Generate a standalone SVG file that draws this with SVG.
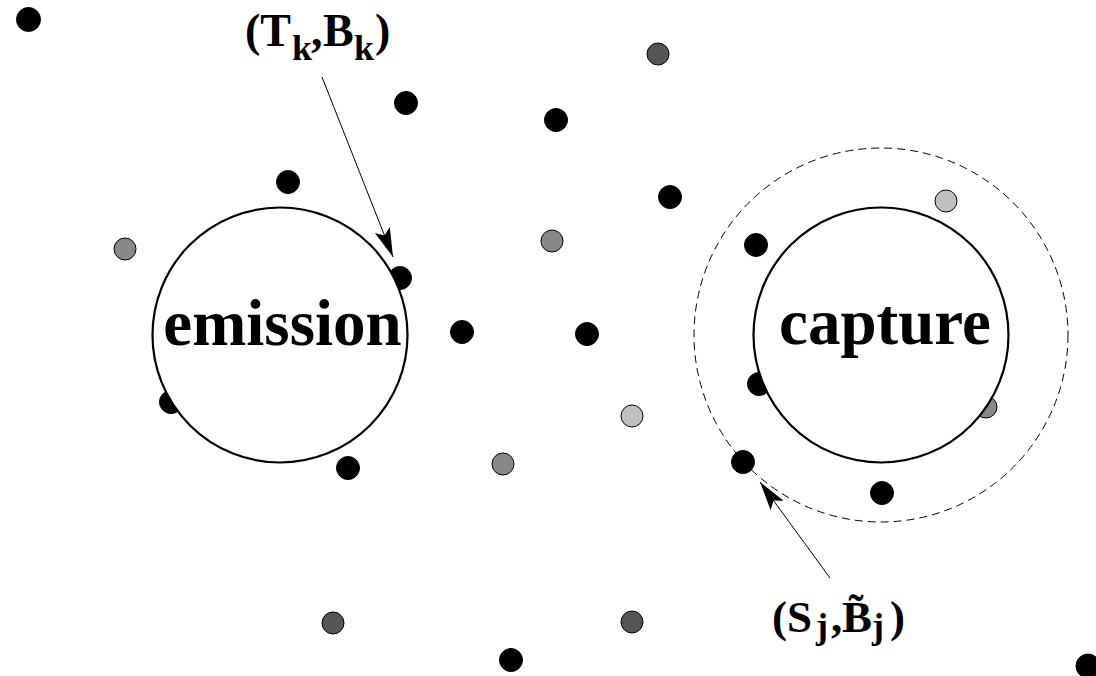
<svg xmlns="http://www.w3.org/2000/svg" width="1096" height="676" viewBox="0 0 1096 676">
<style>
.dot{stroke:#000;stroke-width:1}
.b{fill:#000}
.dg{fill:#555}
.mg{fill:#888}
.lg{fill:#c0c0c0}
.region{fill:#fff;stroke:#000;stroke-width:2.2}
.lbl{font-family:"Liberation Serif","Times New Roman",serif;font-weight:bold;fill:#000}
.conn{stroke:#000;stroke-width:1;fill:none}
</style>
<defs>
<marker id="ah" markerUnits="userSpaceOnUse" orient="auto" refX="0" refY="0" markerWidth="40" markerHeight="40" overflow="visible">
<path d="M0,0 L-29,-8 L-23,0 L-29,8 Z" fill="#000"/>
</marker>
</defs>
<rect width="1096" height="676" fill="#fff"/>
<circle id="neighbourhood" cx="881" cy="335" r="187" fill="none" stroke="#000" stroke-width="1" stroke-dasharray="8,5"/>
<g id="dots">
<circle class="dot b" cx="28.5" cy="19.5" r="12"/>
<circle class="dot b" cx="406" cy="103" r="11.5"/>
<circle class="dot b" cx="556" cy="120" r="11.5"/>
<circle class="dot dg" cx="658" cy="54" r="11"/>
<circle class="dot b" cx="288" cy="182" r="11.5"/>
<circle class="dot b" cx="670" cy="197" r="11.5"/>
<circle class="dot mg" cx="125" cy="249" r="11"/>
<circle class="dot mg" cx="552" cy="241" r="11"/>
<circle class="dot b" cx="400" cy="278" r="11.5"/>
<circle class="dot b" cx="462" cy="332" r="11.5"/>
<circle class="dot b" cx="587" cy="334" r="11.5"/>
<circle class="dot b" cx="171" cy="402" r="11.5"/>
<circle class="dot lg" cx="632" cy="416" r="11"/>
<circle class="dot b" cx="348" cy="468" r="11.5"/>
<circle class="dot mg" cx="503" cy="464" r="11"/>
<circle class="dot b" cx="756" cy="245" r="11.5"/>
<circle class="dot lg" cx="946" cy="201" r="11"/>
<circle class="dot b" cx="759" cy="384" r="11.5"/>
<circle class="dot mg" cx="986" cy="407" r="11"/>
<circle class="dot b" cx="743" cy="462" r="11.5"/>
<circle class="dot b" cx="882" cy="493" r="11.5"/>
<circle class="dot dg" cx="333" cy="623" r="11"/>
<circle class="dot dg" cx="632" cy="622" r="11"/>
<circle class="dot b" cx="511" cy="660" r="11.5"/>
<circle class="dot b" cx="1088" cy="666" r="12"/>
</g>
<g id="emission">
<circle class="region" cx="280" cy="335" r="127.5"/>
<text class="lbl" x="282.5" y="345" font-size="65" text-anchor="middle">emission</text>
</g>
<g id="capture">
<circle class="region" cx="881" cy="335" r="127.5"/>
<text class="lbl" x="885" y="344" font-size="65" text-anchor="middle">capture</text>
</g>
<g id="connectors">
<line class="conn" x1="322" y1="77" x2="393" y2="257" marker-end="url(#ah)"/>
<line class="conn" x1="830" y1="578" x2="760" y2="482" marker-end="url(#ah)"/>
</g>
<g id="label-tk">
<text class="lbl" font-size="46" y="46"><tspan x="245">(T</tspan><tspan x="292" y="60" font-size="36">k</tspan><tspan x="311" y="46">,</tspan><tspan x="323">B</tspan><tspan x="354" y="60" font-size="36">k</tspan><tspan x="375" y="46">)</tspan></text>
</g>
<g id="label-sj">
<text class="lbl" font-size="45" y="632"><tspan x="772">(S</tspan><tspan x="816" y="638" font-size="36">j</tspan><tspan x="831" y="632">,</tspan><tspan x="842">B̃</tspan><tspan x="872" y="638" font-size="36">j</tspan><tspan x="890" y="632">)</tspan></text>
</g>
</svg>
